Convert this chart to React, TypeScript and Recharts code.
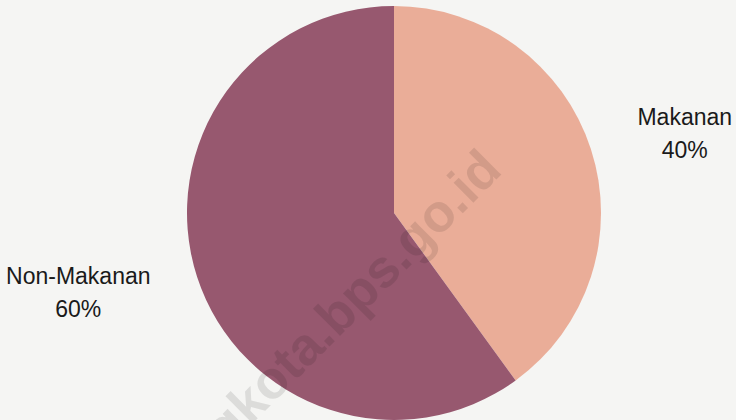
import React from "react"
import { PieChart, Pie, Cell } from "recharts"

// share of spending
const categories = ["Makanan", "Non-Makanan"]
const shares = [40, 60]
const colors = ["#eaad98", "#97586f"]

const data = categories.map((name, i) => ({ name, value: shares[i] }))

const FONT = "'Liberation Sans', Arial, sans-serif"
const FONT_SIZE = 23
const RADIAN = Math.PI / 180

let ctx: CanvasRenderingContext2D | null = null
const textWidth = (s: string) => {
  if (!ctx) ctx = document.createElement("canvas").getContext("2d")
  if (!ctx) return s.length * FONT_SIZE * 0.55
  ctx.font = `${FONT_SIZE}px ${FONT}`
  return ctx.measureText(s).width
}

const renderLabel = (props: any) => {
  const { cx, cy, midAngle, outerRadius, name, value } = props
  const r = outerRadius + 49
  const ax = cx + r * Math.cos(-midAngle * RADIAN)
  const ay = cy + r * Math.sin(-midAngle * RADIAN)
  const line2 = `${value}%`
  const w = Math.max(textWidth(name), textWidth(line2))
  const right = ax > cx
  const x = right ? ax + w / 2 : ax - w / 2
  return (
    <text
      x={x}
      y={ay}
      textAnchor="middle"
      fill="#1a1a1a"
      fontSize={FONT_SIZE}
      fontFamily={FONT}
    >
      <tspan x={x} y={ay - 16.5} dominantBaseline="central">
        {name}
      </tspan>
      <tspan x={x} y={ay + 16.5} dominantBaseline="central">
        {line2}
      </tspan>
    </text>
  )
}

export default function App() {
  return (
    <div
      style={{
        position: "absolute",
        left: 0,
        top: 0,
        width: 736,
        height: 420,
        background: "#f5f5f3",
        overflow: "hidden",
      }}
    >
      <PieChart width={736} height={420} margin={{ top: 0, right: 0, bottom: 0, left: 0 }}>
        <Pie
          data={data}
          dataKey="value"
          nameKey="name"
          cx={394}
          cy={213}
          outerRadius={207}
          startAngle={90}
          endAngle={-270}
          stroke="none"
          label={renderLabel}
          labelLine={false}
          isAnimationActive={false}
        >
          {data.map((d, i) => (
            <Cell key={d.name} fill={colors[i]} />
          ))}
        </Pie>
      </PieChart>
      {/* watermark */}
      <svg
        width={736}
        height={420}
        style={{ position: "absolute", left: 0, top: 0, pointerEvents: "none" }}
      >
        <text
          x={504}
          y={172}
          textAnchor="end"
          transform="rotate(-45 504 172)"
          fontFamily={FONT}
          fontWeight="bold"
          fontSize={53}
          fill="#000"
          fillOpacity={0.1}
        >
          ngkota.bps.go.id
        </text>
      </svg>
    </div>
  )
}
